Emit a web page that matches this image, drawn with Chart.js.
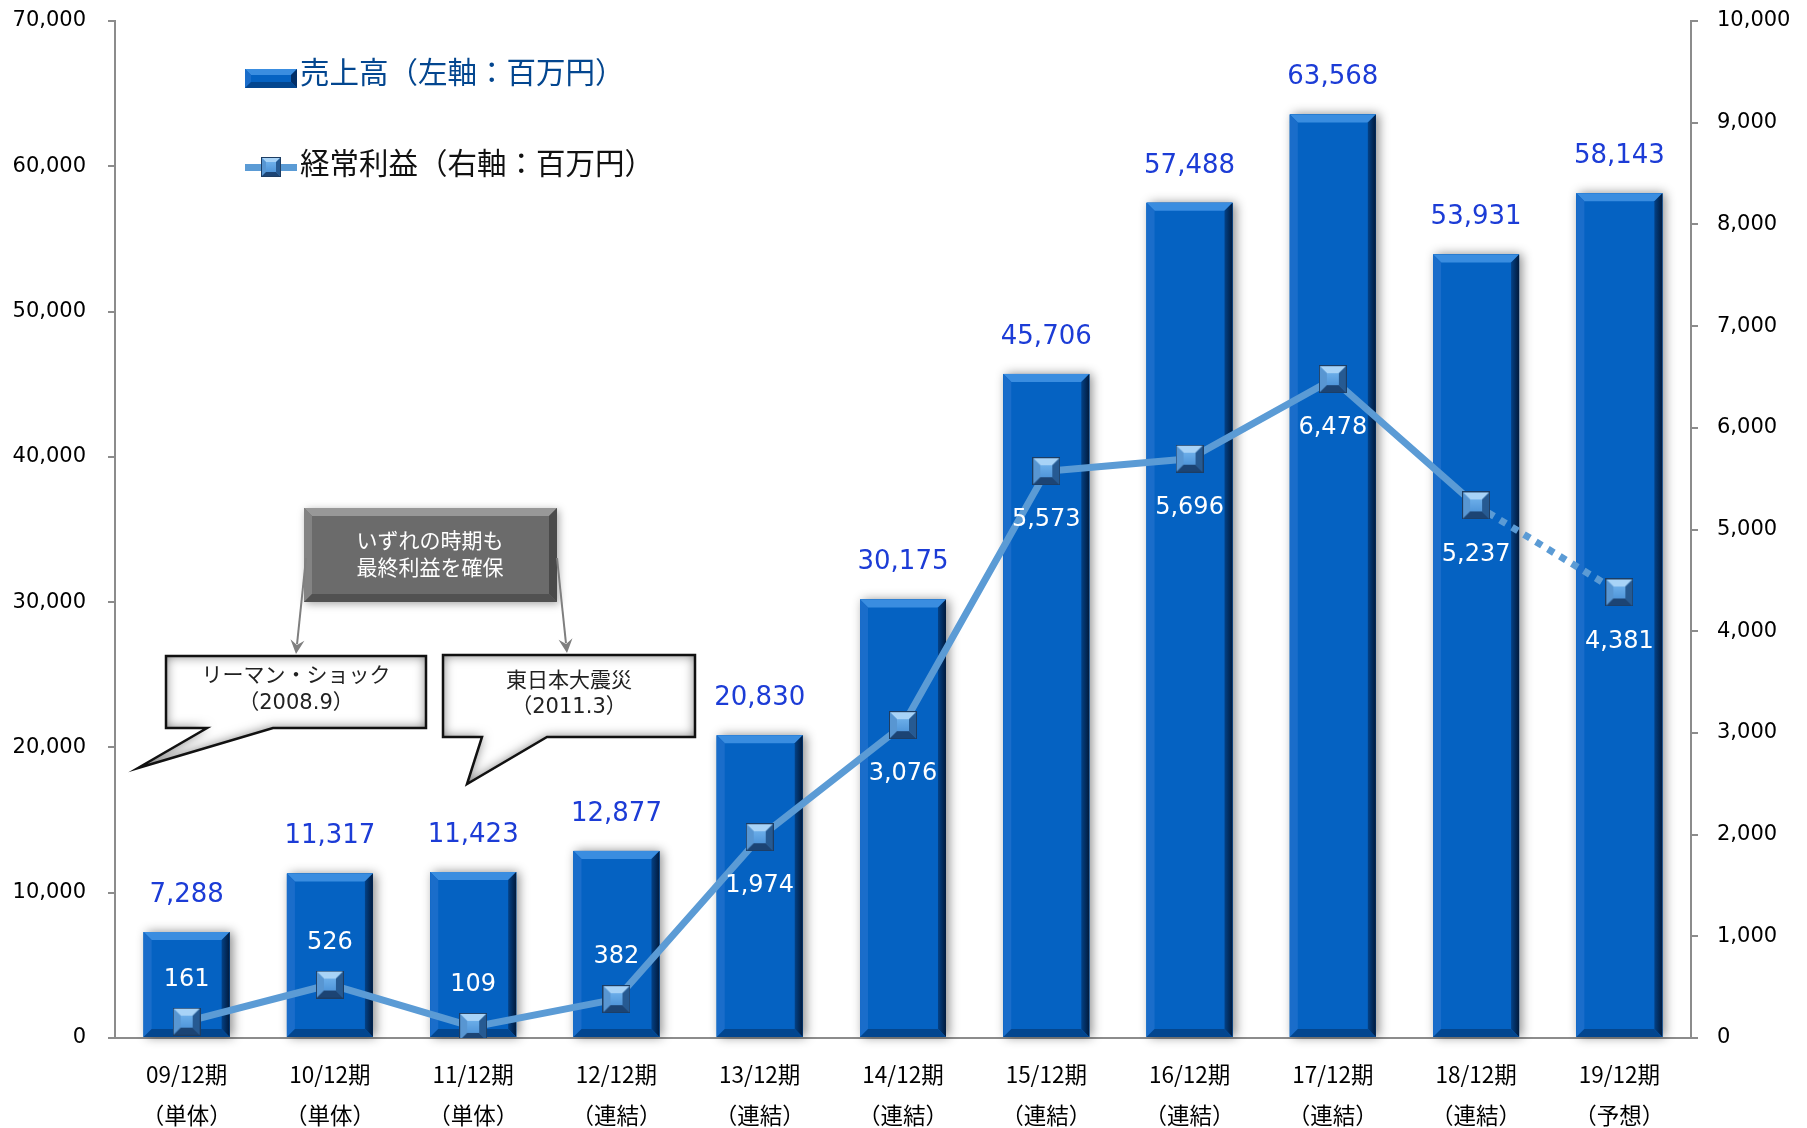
<!DOCTYPE html>
<html lang="ja">
<head>
<meta charset="utf-8">
<title>売上高・経常利益の推移</title>
<script src="https://cdn.jsdelivr.net/npm/chart.js@4.4.1/dist/chart.umd.min.js"></script>
<style>
  html, body { margin: 0; padding: 0; background: #fff; }
  .wrap { position: relative; width: 1807px; height: 1128px; }
</style>
</head>
<body>
<div class="wrap"><canvas id="salesChart"></canvas></div>
<script>
// Data
const periods = ['09/12期', '10/12期', '11/12期', '12/12期', '13/12期', '14/12期', '15/12期', '16/12期', '17/12期', '18/12期', '19/12期'];
const periodTypes = ['（単体）', '（単体）', '（単体）', '（連結）', '（連結）', '（連結）', '（連結）', '（連結）', '（連結）', '（連結）', '（予想）'];
const sales = [7288, 11317, 11423, 12877, 20830, 30175, 45706, 57488, 63568, 53931, 58143];
const ordinaryProfit = [161, 526, 109, 382, 1974, 3076, 5573, 5696, 6478, 5237, 4381];
const salesTicks = [0, 10000, 20000, 30000, 40000, 50000, 60000, 70000];
const profitTicks = [0, 1000, 2000, 3000, 4000, 5000, 6000, 7000, 8000, 9000, 10000];
const seriesNames = ['売上高（左軸：百万円）', '経常利益（右軸：百万円）'];
const noteTop = ['いずれの時期も', '最終利益を確保'];
const noteLehman = ['リーマン・ショック', '（2008.9）'];
const noteQuake = ['東日本大震災', '（2011.3）'];

const JP = '"Noto Sans CJK JP", "Noto Sans", sans-serif';
const NUM = '"DejaVu Sans", Verdana, sans-serif';
const MIX = '"DejaVu Sans", "Noto Sans CJK JP", sans-serif';
const fmt = v => v.toLocaleString('en-US');

// bevelled rectangle: face + four edge bands
function bevelRect(ctx, x, y, w, h, b, c) {
    ctx.fillStyle = c.face;
    ctx.fillRect(x, y, w, h);
    const r = x + w, btm = y + h;
    const band = (pts, fill) => {
        ctx.beginPath();
        ctx.moveTo(pts[0], pts[1]);
        for (let i = 2; i < pts.length; i += 2) ctx.lineTo(pts[i], pts[i + 1]);
        ctx.closePath();
        ctx.fillStyle = fill;
        ctx.fill();
    };
    band([x, y, r, y, r - b, y + b, x + b, y + b], c.top);
    band([x, y, x + b, y + b, x + b, btm - b, x, btm], c.left);
    band([r, y, r, btm, r - b, btm - b, r - b, y + b], c.right);
    band([x, btm, x + b, btm - b, r - b, btm - b, r, btm], c.bottom);
}

function makeMarker(size) {
    const cv = document.createElement('canvas');
    cv.width = size; cv.height = size;
    const c = cv.getContext('2d');
    const face = c.createLinearGradient(0, 0, 0, size);
    face.addColorStop(0, '#7dbdf3');
    face.addColorStop(1, '#3f87d0');
    bevelRect(c, 0, 0, size, size, Math.round(size * 0.27), {
        face: face, top: '#a8d3f7', left: '#5896d2', right: '#265a92', bottom: '#1c4474'
    });
    c.strokeStyle = '#1d3d63';
    c.lineWidth = 1;
    c.strokeRect(0.5, 0.5, size - 1, size - 1);
    return cv;
}
const marker = makeMarker(28);
const legendMarker = makeMarker(20);

const barColors = { face: '#0562c2', top: '#3a8de0', left: '#1a6dca', right: '#022f68', bottom: '#03468f' };

// bars: soft shadow before, bevel after
const barBevel = {
    id: 'barBevel',
    beforeDatasetDraw(chart, args) {
        if (chart.data.datasets[args.index].type !== 'bar') return;
        const ctx = chart.ctx;
        ctx.save();
        ctx.shadowColor = 'rgba(0,0,0,0.45)';
        ctx.shadowBlur = 10;
        ctx.shadowOffsetX = 3;
        ctx.fillStyle = barColors.face;
        args.meta.data.forEach(el => {
            const p = el.getProps(['x', 'y', 'base', 'width'], true);
            ctx.fillRect(p.x - p.width / 2, p.y, p.width, p.base - p.y);
        });
        ctx.restore();
    },
    afterDatasetDraw(chart, args) {
        if (chart.data.datasets[args.index].type !== 'bar') return;
        const ctx = chart.ctx;
        ctx.save();
        args.meta.data.forEach(el => {
            const p = el.getProps(['x', 'y', 'base', 'width'], true);
            const left = p.x - p.width / 2;
            const rightGrad = ctx.createLinearGradient(left + p.width - 9, 0, left + p.width, 0);
            rightGrad.addColorStop(0, '#04468f');
            rightGrad.addColorStop(1, '#011a3c');
            bevelRect(ctx, left, p.y, p.width, p.base - p.y, 8, Object.assign({}, barColors, { right: rightGrad }));
        });
        ctx.restore();
    }
};

// value labels
const valueLabels = {
    id: 'valueLabels',
    afterDatasetsDraw(chart) {
        const ctx = chart.ctx;
        ctx.save();
        ctx.textAlign = 'center';
        ctx.textBaseline = 'middle';
        chart.data.datasets.forEach((ds, i) => {
            const meta = chart.getDatasetMeta(i);
            meta.data.forEach((el, j) => {
                const v = ds.data[j];
                if (ds.type === 'bar') {
                    ctx.font = '26px ' + NUM;
                    ctx.fillStyle = '#1c3cd6';
                    ctx.fillText(fmt(v), el.x, el.y - 37);
                } else {
                    ctx.font = '24px ' + NUM;
                    ctx.fillStyle = '#ffffff';
                    ctx.fillText(fmt(v), el.x, v < 1000 ? el.y - 42 : el.y + 49);
                }
            });
        });
        ctx.restore();
    }
};

// legend + callouts
function calloutPath(ctx, pts) {
    ctx.beginPath();
    ctx.moveTo(pts[0][0], pts[0][1]);
    pts.slice(1).forEach(p => ctx.lineTo(p[0], p[1]));
    ctx.closePath();
}

function drawBubble(ctx, pts, lines, cx, ys) {
    ctx.save();
    calloutPath(ctx, pts);
    ctx.fillStyle = '#ffffff';
    ctx.fill();
    // inner shading
    ctx.save();
    calloutPath(ctx, pts);
    ctx.clip();
    ctx.beginPath();
    ctx.rect(0, 0, 1807, 1128);
    pts.slice().reverse().forEach((p, i) => i ? ctx.lineTo(p[0], p[1]) : ctx.moveTo(p[0], p[1]));
    ctx.closePath();
    ctx.shadowColor = 'rgba(0,0,0,0.55)';
    ctx.shadowBlur = 12;
    ctx.fillStyle = '#000';
    ctx.fill('evenodd');
    ctx.restore();
    calloutPath(ctx, pts);
    ctx.lineWidth = 2.5;
    ctx.strokeStyle = '#111';
    ctx.stroke();
    ctx.fillStyle = '#222';
    ctx.font = '21px ' + MIX;
    ctx.textAlign = 'center';
    ctx.textBaseline = 'middle';
    lines.forEach((t, i) => ctx.fillText(t, cx, ys[i]));
    ctx.restore();
}

function drawArrow(ctx, x1, y1, x2, y2) {
    const a = Math.atan2(y2 - y1, x2 - x1);
    ctx.save();
    ctx.strokeStyle = '#7f7f7f';
    ctx.fillStyle = '#7f7f7f';
    ctx.lineWidth = 2;
    ctx.beginPath();
    ctx.moveTo(x1, y1);
    ctx.lineTo(x2 - 10 * Math.cos(a), y2 - 10 * Math.sin(a));
    ctx.stroke();
    ctx.beginPath();
    ctx.moveTo(x2, y2);
    ctx.lineTo(x2 - 14 * Math.cos(a) + 7 * Math.sin(a), y2 - 14 * Math.sin(a) - 7 * Math.cos(a));
    ctx.lineTo(x2 - 9 * Math.cos(a), y2 - 9 * Math.sin(a));
    ctx.lineTo(x2 - 14 * Math.cos(a) - 7 * Math.sin(a), y2 - 14 * Math.sin(a) + 7 * Math.cos(a));
    ctx.closePath();
    ctx.fill();
    ctx.restore();
}

const annotations = {
    id: 'annotations',
    afterDraw(chart) {
        const ctx = chart.ctx;
        ctx.save();

        // legend
        ctx.font = '29.5px ' + JP;
        ctx.fillStyle = '#111';
        ctx.textBaseline = 'middle';
        ctx.textAlign = 'left';
        bevelRect(ctx, 245, 69, 52, 19, 6, barColors);
        ctx.fillText(seriesNames[0], 300, 72);
        ctx.fillStyle = '#5b9bd5';
        ctx.fillRect(245, 164, 52, 7);
        ctx.drawImage(legendMarker, 261, 157);
        ctx.fillStyle = '#111';
        ctx.fillText(seriesNames[1], 300, 163);

        // grey note box
        ctx.save();
        ctx.shadowColor = 'rgba(0,0,0,0.35)';
        ctx.shadowBlur = 8;
        ctx.shadowOffsetX = 2;
        ctx.shadowOffsetY = 2;
        ctx.fillStyle = '#6b6b6b';
        ctx.fillRect(304, 508, 253, 94);
        ctx.restore();
        bevelRect(ctx, 304, 508, 253, 94, 8, {
            face: '#6b6b6b', top: '#989898', left: '#838383', right: '#4a4a4a', bottom: '#515151'
        });
        ctx.fillStyle = '#ffffff';
        ctx.font = '21px ' + JP;
        ctx.textAlign = 'center';
        ctx.fillText(noteTop[0], 430, 540);
        ctx.fillText(noteTop[1], 430, 567);

        drawArrow(ctx, 306, 558, 296, 654);
        drawArrow(ctx, 557, 558, 567, 653);

        drawBubble(ctx, [[166, 656], [426, 656], [426, 728], [273, 728], [138, 768], [207, 728], [166, 728]],
            noteLehman, 296, [677, 704]);
        drawBubble(ctx, [[443, 655], [695, 655], [695, 737], [547, 737], [467, 784], [482, 737], [443, 737]],
            noteQuake, 569, [682, 708]);

        ctx.restore();
    }
};

const forecastIndex = periodTypes.indexOf('（予想）');
const axisGrey = '#8c8c8c';

// fixed axis sizes so the plot area matches the original layout
const fixWidth = w => s => { s.width = w; s.paddingTop = 0; s.paddingBottom = 0; };

new Chart(document.getElementById('salesChart'), {
    data: {
        labels: periods.map((p, i) => [p, periodTypes[i]]),
        datasets: [
            {
                type: 'line',
                label: seriesNames[1],
                data: ordinaryProfit,
                yAxisID: 'y1',
                order: 0,
                borderColor: '#5b9bd5',
                borderWidth: 7,
                tension: 0,
                pointStyle: marker,
                pointRadius: 14,
                segment: {
                    borderDash: ctx => ctx.p1DataIndex === forecastIndex ? [7, 7] : undefined
                }
            },
            {
                type: 'bar',
                label: seriesNames[0],
                data: sales,
                yAxisID: 'y',
                order: 1,
                backgroundColor: barColors.face,
                barPercentage: 0.6,
                categoryPercentage: 1.0
            }
        ]
    },
    options: {
        responsive: true,
        maintainAspectRatio: false,
        animation: false,
        layout: { padding: { top: 20, right: 0, bottom: 0, left: 0 } },
        plugins: {
            legend: { display: false },
            tooltip: { enabled: false }
        },
        scales: {
            x: {
                afterFit: s => { s.height = 90; },
                grid: { display: true, drawOnChartArea: false, drawTicks: false },
                border: { display: true, color: axisGrey, width: 2 },
                ticks: {
                    color: '#000',
                    padding: 16,
                    maxRotation: 0,
                    font: { family: JP, size: 22.5, lineHeight: '41px' }
                }
            },
            y: {
                position: 'left',
                min: salesTicks[0],
                max: salesTicks[salesTicks.length - 1],
                afterFit: fixWidth(115),
                afterBuildTicks: s => { s.ticks = salesTicks.map(v => ({ value: v })); },
                grid: { drawOnChartArea: false, tickLength: 7, color: axisGrey, lineWidth: 2 },
                border: { display: true, color: axisGrey, width: 2 },
                ticks: {
                    color: '#000',
                    padding: 22,
                    font: { family: NUM, size: 21 },
                    callback: v => fmt(v)
                }
            },
            y1: {
                position: 'right',
                min: profitTicks[0],
                max: profitTicks[profitTicks.length - 1],
                afterFit: fixWidth(116),
                afterBuildTicks: s => { s.ticks = profitTicks.map(v => ({ value: v })); },
                grid: { drawOnChartArea: false, tickLength: 7, color: axisGrey, lineWidth: 2 },
                border: { display: true, color: axisGrey, width: 2 },
                ticks: {
                    color: '#000',
                    padding: 19,
                    font: { family: NUM, size: 21 },
                    callback: v => fmt(v)
                }
            }
        }
    },
    plugins: [barBevel, valueLabels, annotations]
});
</script>
</body>
</html>
